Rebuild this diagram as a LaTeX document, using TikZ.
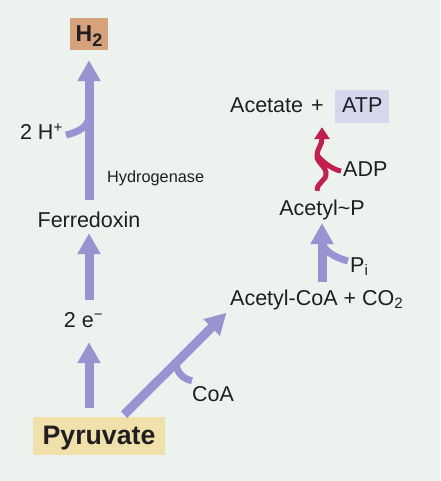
\documentclass[tikz,border=0pt]{standalone}
\usepackage{fontspec}
\setmainfont{Liberation Sans}
\usetikzlibrary{arrows.meta}
\definecolor{paper}{RGB}{236,242,237}
\definecolor{lav}{RGB}{152,148,210}
\definecolor{atpred}{RGB}{196,30,78}
\definecolor{hbox}{RGB}{214,162,122}
\definecolor{pbox}{RGB}{240,224,170}
\definecolor{abox}{RGB}{214,214,236}
\definecolor{ink}{RGB}{30,30,35}
\begin{document}
\begin{tikzpicture}[x=1pt,y=-1pt,
    lbl/.style={inner sep=0pt,text height=14pt,text depth=4pt,text=ink,font=\fontsize{21.5}{24}\selectfont},
    fat/.style={line width=9pt,draw=lav,-{Triangle[width=22pt,length=21pt]}},
    side/.style={line width=7pt,draw=lav},
    wavy/.style={line width=5pt,draw=atpred,-{Triangle[width=15pt,length=12pt]}},
    wavyside/.style={line width=5pt,draw=atpred}]
  \fill[paper] (0,0) rectangle (440,481);
  \useasboundingbox (0,0) rectangle (440,481);
  \node[lbl,anchor=base,fill=hbox,inner xsep=6pt,inner ysep=8pt,text height=16pt,text depth=0pt,font=\fontsize{23}{26}\selectfont\bfseries] (h2) at (89,42) {H\raisebox{-5pt}{\fontsize{18}{20}\selectfont 2}};
  \node[lbl,anchor=base] (ferredoxin) at (89,227) {Ferredoxin};
  \node[lbl,anchor=base] (twoe) at (83.5,327) {2 e\textsuperscript{−}};
  \node[lbl,anchor=base,fill=pbox,inner ysep=6pt,minimum width=132pt,text height=21pt,text depth=5pt,font=\fontsize{26.7}{30}\selectfont\bfseries] (pyruvate) at (99,444) {Pyruvate};
  \node[lbl,anchor=base east] (twoH) at (63,140) {2 H\textsuperscript{+}};
  \node[lbl,anchor=base west,font=\fontsize{16.3}{19}\selectfont] (hydrogenase) at (107,182) {Hydrogenase};
  \node[lbl,anchor=base west] (acetylcoa) at (230,305) {Acetyl-CoA + CO\textsubscript{2}};
  \node[lbl,anchor=base west] (coa) at (192,401) {CoA};
  \node[lbl,anchor=base west] (pi) at (350,272) {P\textsubscript{i}};
  \node[lbl,anchor=base] (acetylp) at (322,215) {Acetyl\textasciitilde P};
  \node[lbl,anchor=base west] (adp) at (343,176) {ADP};
  \node[lbl,anchor=base west] (acetate) at (230,113) {Acetate\hspace{8pt}+};
  \node[lbl,anchor=base west,fill=abox,inner xsep=7pt,inner ysep=7pt,text height=16pt,text depth=3pt] (atp) at (335,113) {ATP};

  \draw[fat,shorten <=9pt,shorten >=11pt] (pyruvate.north -| ferredoxin) -- (twoe.south -| ferredoxin);
  \draw[fat,shorten <=13pt,shorten >=2pt] (twoe.north -| ferredoxin) -- (ferredoxin.south);
  \draw[fat,shorten <=13pt,shorten >=10pt] (ferredoxin.north) -- coordinate[pos=0.6] (hjoin) (h2.south);
  \draw[side] ([xshift=3pt]twoH.east) .. controls +(12,-3) and +(0,12) .. (hjoin);
  \draw[fat,shorten <=3pt,shorten >=5pt] (pyruvate.40) -- coordinate[pos=0.5] (coajoin) (acetylcoa.south west);
  \draw[side] ([yshift=6pt]coa.north west) .. controls +(-9,-2) and +(1,10) .. (coajoin);
  \draw[fat,shorten <=9pt,shorten >=4pt] (acetylcoa.north -| acetylp) -- coordinate[pos=0.7] (pjoin) (acetylp.south);
  \draw[side] ([shift={(-2pt,6pt)}]pi.west) .. controls +(-12,-3) and +(0,10) .. (pjoin);
  \draw[wavy,shorten >=10pt] ([shift={(-5pt,10pt)}]acetylp.north)
    .. controls +(0,-9) and +(1,8) .. ++(9,-18)
    .. controls +(-1,-8) and +(-1,8) .. ++(-9,-18) coordinate (adpjoin)
    .. controls +(1,-8) and +(0,28) .. (acetate.south -| acetylp);
  \draw[wavyside] ([xshift=-2pt]adp.west) .. controls +(-8,-1) and +(4,6) .. (adpjoin);
\end{tikzpicture}
\end{document}
